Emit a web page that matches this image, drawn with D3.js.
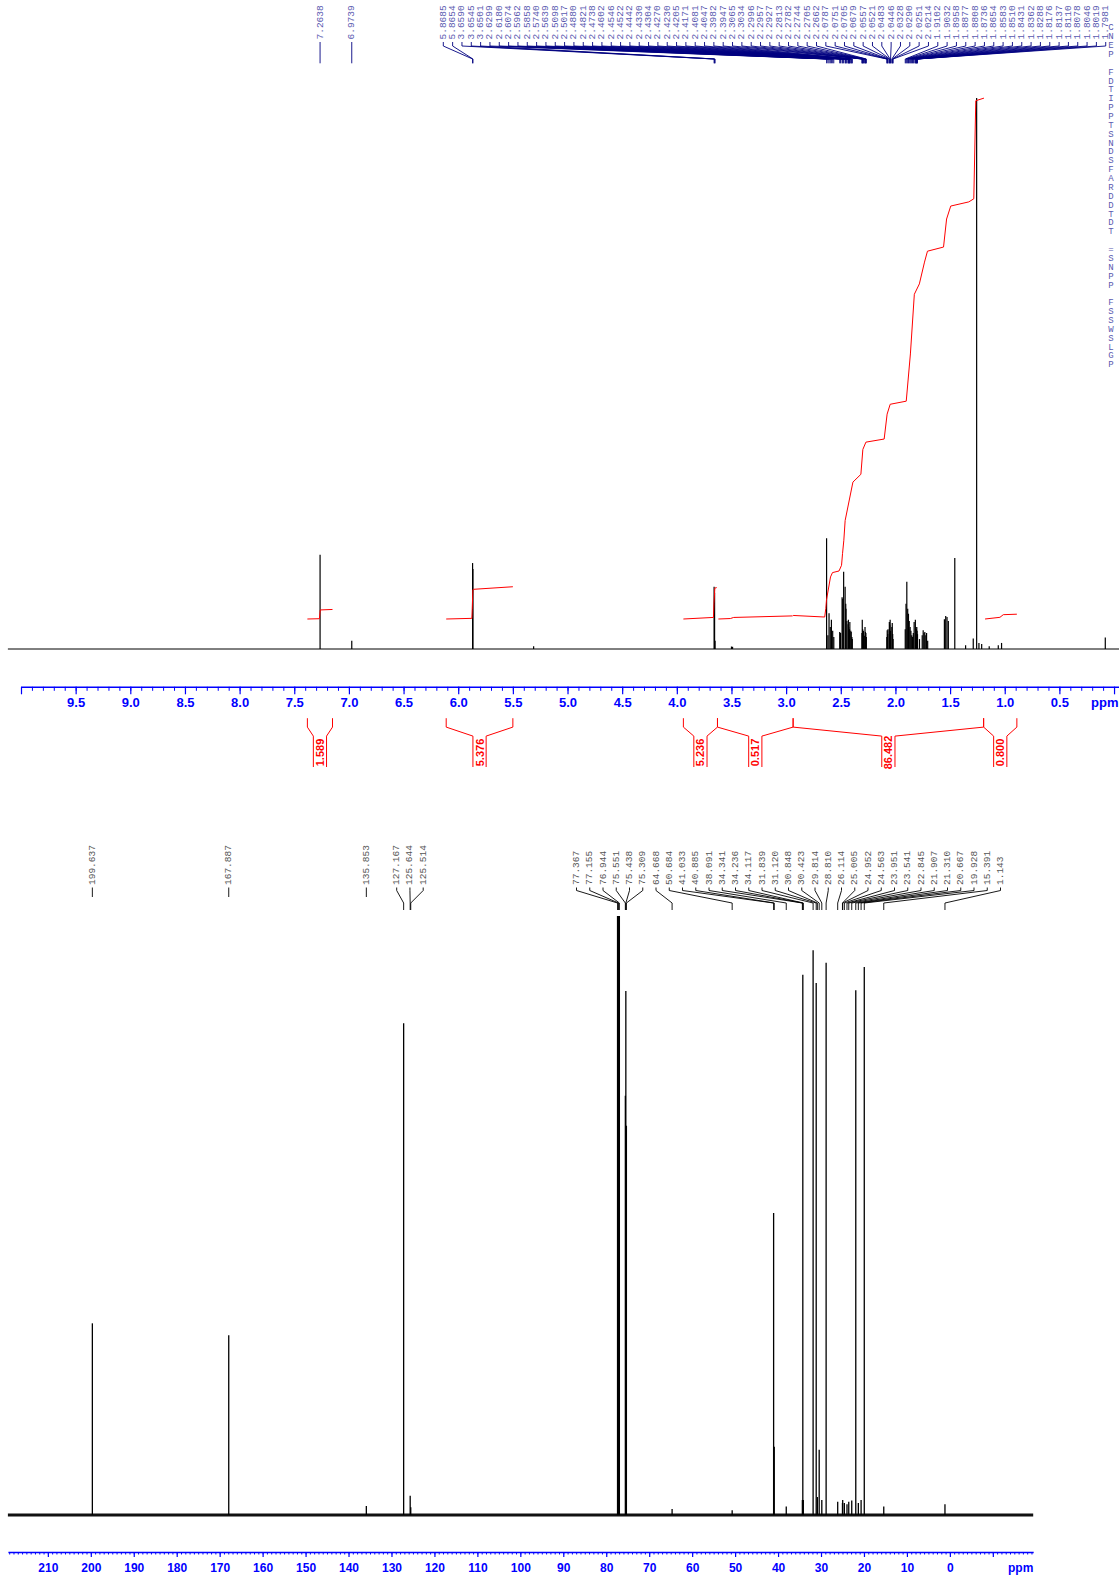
<!DOCTYPE html>
<html>
<head>
<meta charset="utf-8">
<script src="https://cdn.jsdelivr.net/npm/d3@7"></script>
<style>
  html, body { margin: 0; padding: 0; background: #ffffff; }
  svg { display: block; }
</style>
</head>
<body>
<svg id="chart" width="1119" height="1580"></svg>
<script>
// ---------------- 1H spectrum ----------------
// labelled peak positions (ppm) and relative intensities (tallest line = 100)
const hLabelShifts = [7.2638, 6.9739, 5.8685, 5.8654, 3.6590, 3.6545, 3.6501, 2.6299, 2.6180, 2.6074,
  2.5962, 2.5858, 2.5740, 2.5639, 2.5098, 2.5017, 2.4880, 2.4821, 2.4738, 2.4602, 2.4546, 2.4522,
  2.4442, 2.4330, 2.4304, 2.4270, 2.4230, 2.4205, 2.4171, 2.4081, 2.4047, 2.3982, 2.3947, 2.3065,
  2.3034, 2.2996, 2.2957, 2.2927, 2.2813, 2.2782, 2.2744, 2.2705, 2.2662, 2.0787, 2.0751, 2.0705,
  2.0679, 2.0557, 2.0521, 2.0483, 2.0446, 2.0328, 2.0290, 2.0251, 2.0214, 1.9102, 1.9032, 1.8958,
  1.8877, 1.8808, 1.8736, 1.8654, 1.8583, 1.8510, 1.8431, 1.8362, 1.8288, 1.8176, 1.8137, 1.8110,
  1.8078, 1.8046, 1.8019, 1.7981];
const hLabelHeights = [17.1, 1.5, 15.6, 14.5, 11.3, 10.2, 1.5, 20.1, 2.5, 6.5,
  4.0, 5.3, 3.3, 2.2, 3.1, 2.9, 9.4, 9.1, 14.0, 11.3, 8.2, 7.3,
  5.1, 4.5, 5.3, 4.0, 3.3, 3.6, 4.9, 3.3, 3.1, 2.2, 1.8, 2.9,
  5.3, 3.6, 2.7, 3.3, 2.4, 4.0, 3.1, 2.9, 2.2, 2.2, 3.4, 2.7,
  3.6, 4.9, 4.4, 5.3, 3.3, 4.0, 4.7, 2.7, 1.8, 3.6, 8.2, 12.2,
  7.3, 6.4, 5.1, 4.0, 3.3, 2.5, 2.2, 2.9, 4.9, 5.3, 4.0, 3.3,
  3.6, 4.0, 3.3, 2.7];
// further lines whose labels fall outside the plot
const hOtherShifts = [5.31, 3.50, 3.49, 1.780, 1.755, 1.746, 1.738, 1.731, 1.722, 1.715, 1.705,
  1.552, 1.540, 1.528, 1.516, 1.457, 1.358, 1.288, 1.257, 1.236, 1.211, 1.142, 1.059, 1.029, 0.080];
const hOtherHeights = [0.5, 0.45, 0.4, 1.8, 2.5, 3.4, 2.9, 3.1, 2.5, 2.9, 1.5,
  5.4, 6.0, 5.8, 5.1, 16.5, 0.7, 1.9, 100, 1.1, 0.9, 0.5, 0.7, 1.1, 2.1];

// integrals: value, region (ppm), start level and trace as [ppm, fraction of value]
const hIntegralValues = [1.589, 5.376, 5.236, 0.517, 86.482, 0.800];
const hIntegralRanges = [[7.38, 7.15], [6.11, 5.50], [3.94, 3.628], [3.628, 2.936], [2.936, 1.193], [1.193, 0.889]];
const hIntegralStarts = [0, 0, 0, 0, 0.33, 0];
const hIntegralTraces = [
  [[7.38, 0], [7.27, 0.03], [7.262, 0.95], [7.15, 1.0]],
  [[6.11, 0], [5.875, 0.02], [5.872, 0.3], [5.866, 0.9], [5.862, 0.92], [5.50, 1.0]],
  [[3.94, 0], [3.665, 0.05], [3.660, 0.5], [3.652, 0.985], [3.635, 1.0]],
  [[3.62, 0], [3.51, 0.15], [3.48, 0.5], [2.94, 1.0]],
  [[2.936, 0.003], [2.647, 0], [2.637, 0.0167], [2.631, 0.0326], [2.594, 0.0772], [2.576, 0.0856],
   [2.516, 0.0887], [2.493, 0.0997], [2.484, 0.122], [2.472, 0.148], [2.460, 0.186], [2.389, 0.260],
   [2.316, 0.275], [2.298, 0.323], [2.270, 0.337], [2.103, 0.343], [2.076, 0.391], [2.048, 0.410],
   [1.901, 0.416], [1.863, 0.507], [1.827, 0.622], [1.781, 0.642], [1.734, 0.684], [1.707, 0.705],
   [1.560, 0.713], [1.532, 0.767], [1.494, 0.792], [1.329, 0.800], [1.283, 0.806], [1.265, 0.995],
   [1.19, 1.0]],
  [[1.18, 0], [1.044, 0.35], [1.013, 0.9], [0.889, 1.0]]
];

// first letters of the acquisition / processing parameter listing
const hParamInitials = ["C", "N", "E", "P", "", "F", "D", "T", "I", "P", "P", "T", "S", "N", "D", "S",
  "F", "A", "R", "D", "D", "T", "D", "T", "", "=", "S", "N", "P", "P", "", "F", "S", "S", "W", "S", "L", "G", "P"];

// ---------------- 13C spectrum ----------------
const cLabelShifts = [199.637, 167.887, 135.853, 127.167, 125.644, 125.514, 77.367, 77.155, 76.944,
  75.551, 75.438, 75.309, 64.668, 50.684, 41.033, 40.885, 38.091, 34.341, 34.236, 34.117, 31.839,
  31.120, 30.848, 30.423, 29.814, 28.810, 26.114, 25.005, 24.952, 24.563, 23.951, 23.541, 22.845,
  21.907, 21.310, 20.667, 19.928, 15.391, 1.143];
const cHeights = [32.0, 30.0, 1.5, 82.1, 3.2, 1.3, 110, 110, 110,
  70, 87.5, 65, 1.0, 0.8, 50.4, 11.4, 1.4, 2.5, 90.2, 2.5, 94.3,
  88.8, 3.0, 10.9, 2.5, 92.2, 2.2, 2.0, 2.5, 2.0, 1.8, 2.2, 2.4,
  87.6, 2.0, 2.5, 91.5, 1.4, 1.8];

// ---------------- drawing ----------------
const svg = d3.select("#chart");
svg.append("rect").attr("width", 1119).attr("height", 1580).attr("fill", "#ffffff");

const AXIS_BLUE = "#0000ff";
const LABEL_NAVY = "#000080";
const MONO = "'Liberation Mono', 'DejaVu Sans Mono', monospace";
const SANS = "'Liberation Sans', Arial, Helvetica, sans-serif";

// ----- scales -----
const hx = d3.scaleLinear().domain([10.0, -0.05]).range([21, 1119.5]);
const hy = d3.scaleLinear().domain([0, 100]).range([649, 98]);
const hInt = d3.scaleLinear().domain([0, 100]).range([619, 19]);

const cx = d3.scaleLinear().domain([219.3, -19.4]).range([7.9, 1033.2]);
const cy = d3.scaleLinear().domain([0, 100]).range([1515, 916]);

// ----- axis helper -----
function drawAxis(scale, yPos, majors, minors, majorLen, minorLen, pad, fontSize, labelled, fmt) {
  const g = svg.append("g").attr("transform", `translate(0,${yPos})`);
  g.append("g")
    .call(d3.axisBottom(scale).tickValues(minors).tickSize(minorLen).tickSizeOuter(0).tickFormat(""))
    .call(a => a.select(".domain").remove())
    .call(a => a.selectAll("line").attr("stroke", AXIS_BLUE).attr("stroke-width", 1));
  g.append("g")
    .call(d3.axisBottom(scale).tickValues(majors).tickSize(majorLen).tickSizeOuter(0).tickPadding(pad)
      .tickFormat(d => labelled(d) ? fmt(d) : ""))
    .call(a => a.select(".domain").attr("stroke", AXIS_BLUE).attr("stroke-width", 1.4))
    .call(a => a.selectAll("line").attr("stroke", AXIS_BLUE).attr("stroke-width", 1.2))
    .call(a => a.selectAll("text").attr("fill", AXIS_BLUE).attr("font-family", SANS)
      .attr("font-weight", "bold").attr("font-size", fontSize));
  return g;
}

// ----- peak label helper -----
function drawPeakLabels(g, shifts, xs, layout, geo) {
  layout.forEach(grp => {
    for (let i = grp.from; i <= grp.to; i++) {
      const px = xs(shifts[i]);
      const lx = grp.x0 == null ? px : grp.x0 + (i - grp.from) * geo.gap;
      g.append("text")
        .attr("transform", `translate(${lx},${geo.textBase}) rotate(-90)`)
        .attr("text-anchor", "start")
        .attr("dominant-baseline", "central")
        .attr("font-family", MONO)
        .attr("font-size", geo.fontSize)
        .attr("fill", geo.textColor)
        .text(geo.fmt(shifts[i]));
      const pts = grp.x0 == null
        ? [[px, geo.t0], [px, geo.single]]
        : [[lx, geo.t0], [lx, geo.t1], [px, geo.t2], [px, geo.t3]];
      g.append("path").attr("d", d3.line()(pts))
        .attr("fill", "none").attr("stroke", geo.lineColor).attr("stroke-width", 0.9);
    }
  });
}

// ================= 1H panel =================
const hPeaks = hLabelShifts.map((s, i) => [s, hLabelHeights[i]])
  .concat(hOtherShifts.map((s, i) => [s, hOtherHeights[i]]));

const hSpec = svg.append("g");
hSpec.append("line")
  .attr("x1", hx(10.12)).attr("x2", hx(-0.05))
  .attr("y1", hy(0)).attr("y2", hy(0))
  .attr("stroke", "#000").attr("stroke-width", 1);
hSpec.selectAll("line.peak").data(hPeaks).join("line").attr("class", "peak")
  .attr("x1", d => hx(d[0])).attr("x2", d => hx(d[0]))
  .attr("y1", hy(0)).attr("y2", d => hy(d[1]))
  .attr("stroke", "#000").attr("stroke-width", 1.2);

// integral curves
const intG = svg.append("g");
hIntegralTraces.forEach((tr, k) => {
  const line = d3.line()
    .x(d => hx(d[0]))
    .y(d => hInt(hIntegralStarts[k] + d[1] * hIntegralValues[k]));
  intG.append("path").attr("d", line(tr))
    .attr("fill", "none").attr("stroke", "#ff0000").attr("stroke-width", 1);
});

// 1H axis
const hMajors = d3.range(0, 10.001, 0.5).map(v => +v.toFixed(1));
const hMinors = d3.range(0, 10.001, 0.1).map(v => +v.toFixed(1));
drawAxis(hx, 686.8, hMajors, hMinors, 7.5, 4, 3.8, 13,
  d => d > 0.2 && d < 9.8, d3.format(".1f"));
svg.append("text").attr("x", 1091).attr("y", 702.5)
  .attr("dominant-baseline", "central")
  .attr("fill", AXIS_BLUE).attr("font-family", SANS).attr("font-weight", "bold").attr("font-size", 13)
  .text("ppm");

// integral brackets
const brG = svg.append("g");
const BR = { yA: 718.2, yB: 727.1, yC: 736.1, yD: 767, half: 6.6, textY: 752.5 };
hIntegralRanges.forEach((r, k) => {
  const xl = hx(r[0]), xr = hx(r[1]);
  const mid = (xl + xr) / 2;
  const pts = [[xl, BR.yA], [xl, BR.yB], [mid - BR.half, BR.yC], [mid - BR.half, BR.yD]];
  const pts2 = [[xr, BR.yA], [xr, BR.yB], [mid + BR.half, BR.yC], [mid + BR.half, BR.yD]];
  [pts, pts2].forEach(p => brG.append("path").attr("d", d3.line()(p))
    .attr("fill", "none").attr("stroke", "#ff0000").attr("stroke-width", 1));
  brG.append("text")
    .attr("transform", `translate(${mid},${BR.textY}) rotate(-90)`)
    .attr("text-anchor", "middle").attr("dominant-baseline", "central")
    .attr("fill", "#ff0000").attr("font-family", SANS).attr("font-weight", "bold").attr("font-size", 11)
    .text(d3.format(".3f")(hIntegralValues[k]));
});

// 1H peak labels
drawPeakLabels(svg.append("g"), hLabelShifts, hx,
  [{ from: 0, to: 0 }, { from: 1, to: 1 }, { from: 2, to: 73, x0: 443.3 }],
  { gap: 9.33, textBase: 39.5, t0: 42, t1: 46, t2: 59, t3: 63.3, single: 63.3, fontSize: 9.5,
    textColor: "#5a5ab0", lineColor: LABEL_NAVY, fmt: d3.format(".4f") });

// parameter listing (clipped at the right edge)
svg.append("g").selectAll("text").data(hParamInitials).join("text")
  .attr("x", 1111).attr("y", (d, i) => 28.3 + i * 8.87)
  .attr("text-anchor", "middle").attr("dominant-baseline", "central")
  .attr("font-family", MONO).attr("font-size", 9).attr("fill", "#5a5ab0")
  .text(d => d);

// ================= 13C panel =================
svg.append("clipPath").attr("id", "cClip")
  .append("rect").attr("x", 0).attr("y", 916).attr("width", 1119).attr("height", 664);

const cSpec = svg.append("g").attr("clip-path", "url(#cClip)");
cSpec.append("line")
  .attr("x1", cx(219.3)).attr("x2", cx(-19.4))
  .attr("y1", cy(0)).attr("y2", cy(0))
  .attr("stroke", "#111").attr("stroke-width", 3);
cSpec.selectAll("line.peak").data(cLabelShifts.map((s, i) => [s, cHeights[i]])).join("line")
  .attr("class", "peak")
  .attr("x1", d => cx(d[0])).attr("x2", d => cx(d[0]))
  .attr("y1", cy(0)).attr("y2", d => cy(d[1]))
  .attr("stroke", "#000").attr("stroke-width", 1.3);

const cMajors = d3.range(-10, 211, 10);
const cMinors = d3.range(-19, 220, 1);
drawAxis(cx, 1552, cMajors, cMinors, 5, 2.5, 6.7, 12, d => d >= 0, d3.format("d"));
svg.append("text").attr("x", 1020.7).attr("y", 1568)
  .attr("text-anchor", "middle").attr("dominant-baseline", "central")
  .attr("fill", AXIS_BLUE).attr("font-family", SANS).attr("font-weight", "bold").attr("font-size", 12)
  .text("ppm");

drawPeakLabels(svg.append("g"), cLabelShifts, cx,
  [{ from: 0, to: 0 }, { from: 1, to: 1 }, { from: 2, to: 2 },
   { from: 3, to: 5, x0: 396.7 }, { from: 6, to: 38, x0: 576.5 }],
  { gap: 13.25, textBase: 885, t0: 887.5, t1: 890.5, t2: 903, t3: 910, single: 897, fontSize: 9.5,
    textColor: "#555", lineColor: "#000", fmt: d3.format(".3f") });
</script>
</body>
</html>
